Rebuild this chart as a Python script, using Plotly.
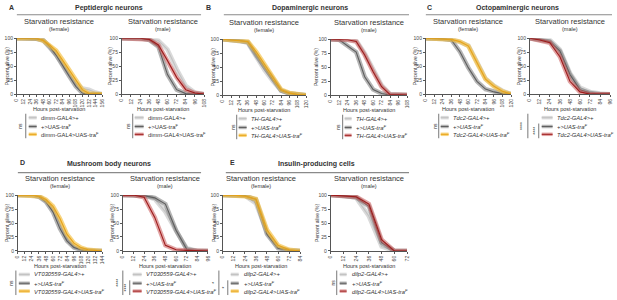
import plotly.graph_objects as go

W, H = 617, 300
FONT = "Liberation Sans, Arial, Helvetica, sans-serif"

# ---------------- data (percent alive vs hours post-starvation) ----------------
a_f_hours = [0, 12, 24, 36, 48, 60, 72, 84, 96, 108, 120, 132, 144, 156]
a_f_gal4 = [100, 100, 100, 99, 96, 84, 70, 53, 35, 20, 10, 8, 3, 0]
a_f_uas = [100, 100, 100, 99, 97, 85, 70, 50, 32, 14, 2, 0, 0, 0]
a_f_exp = [100, 100, 100, 100, 96, 88, 78, 61, 44, 26, 8, 1, 0, 0]

a_m_hours = [0, 12, 24, 36, 48, 60, 72, 84, 96, 108]
a_m_gal4 = [100, 100, 100, 99, 96, 80, 45, 15, 3, 0]
a_m_uas = [100, 100, 100, 97, 85, 35, 8, 1, 0, 0]
a_m_exp = [100, 100, 100, 98, 88, 60, 30, 8, 2, 0]

b_f_hours = [0, 12, 24, 36, 48, 60, 72, 84, 96, 108, 120]
b_f_gal4 = [100, 99, 98, 93, 68, 45, 25, 8, 3, 1, 0]
b_f_uas = [100, 99, 98, 95, 72, 50, 28, 8, 3, 1, 0]
b_f_exp = [100, 99, 98, 96, 78, 55, 32, 10, 4, 1, 0]

b_m_hours = [0, 12, 24, 36, 48, 60, 72, 84, 96, 108]
b_m_gal4 = [100, 100, 99, 98, 75, 45, 18, 2, 0, 0]
b_m_uas = [100, 99, 88, 77, 33, 10, 3, 0, 0, 0]
b_m_exp = [100, 100, 99, 96, 72, 42, 15, 1, 0, 0]

c_f_hours = [0, 12, 24, 36, 48, 60, 72, 84, 96, 108, 120]
c_f_gal4 = [100, 100, 99, 98, 93, 87, 58, 28, 15, 6, 0]
c_f_uas = [100, 100, 99, 97, 76, 47, 23, 9, 4, 1, 0]
c_f_exp = [100, 100, 99, 98, 94, 86, 56, 27, 14, 5, 0]

c_m_hours = [0, 12, 24, 36, 48, 60, 72, 84, 96]
c_m_gal4 = [100, 98, 97, 80, 38, 12, 4, 1, 0]
c_m_uas = [100, 98, 94, 77, 35, 8, 2, 0, 0]
c_m_exp = [100, 97, 92, 67, 23, 4, 0, 0, 0]

d_f_hours = [0, 12, 24, 36, 48, 60, 72, 84, 96, 108, 120, 132, 144]
d_f_gal4 = [100, 100, 100, 98, 90, 76, 50, 22, 8, 3, 1, 0, 0]
d_f_uas = [100, 100, 100, 97, 88, 70, 40, 18, 6, 2, 0, 0, 0]
d_f_exp = [100, 100, 100, 98, 92, 80, 58, 30, 14, 6, 2, 1, 0]

d_m_hours = [0, 12, 24, 36, 48, 60, 72, 84, 96]
d_m_gal4 = [100, 100, 99, 93, 70, 36, 5, 0, 0]
d_m_uas = [100, 100, 99, 95, 84, 37, 3, 0, 0]
d_m_exp = [100, 100, 96, 60, 10, 2, 1, 0, 0]

e_f_hours = [0, 12, 24, 36, 48, 60, 72, 84]
e_f_gal4 = [100, 100, 99, 85, 33, 7, 1, 0]
e_f_uas = [100, 100, 99, 92, 30, 5, 1, 0]
e_f_exp = [100, 100, 98, 93, 38, 10, 2, 0]

e_m_hours = [0, 12, 24, 36, 48, 60, 72]
e_m_gal4 = [100, 99, 95, 62, 8, 0, 0]
e_m_uas = [100, 99, 96, 80, 15, 0, 0]
e_m_exp = [100, 99, 97, 84, 20, 0, 0]

panel_letters = ["A", "B", "C", "D", "E"]
panel_titles = ["Peptidergic neurons", "Dopaminergic neurons", "Octopaminergic neurons",
                "Mushroom body neurons", "Insulin-producing cells"]
drivers = ["dimm-GAL4", "TH-GAL4", "Tdc2-GAL4", "VT030559-GAL4", "dilp2-GAL4"]
significance_female = [["ns"], ["ns"], ["ns"], ["ns"], ["*", "*"]]
significance_male = [["ns"], ["ns"], ["****", "****"], ["****", "****"], ["ns"]]

# ---------------- styles ----------------
GAL4 = ("rgba(205,205,205,0.75)", "#c2c2c2")
UAS = ("rgba(120,120,120,0.55)", "#5e5e5e")
EXP_F = ("rgba(245,190,60,0.65)", "#e8a317")
EXP_M = ("rgba(200,90,90,0.55)", "#9e1b1b")
TXT = "#333333"
AX = "#555555"

# plot boxes in px: (left, right, top, bottom)
plots = [
    dict(h=a_f_hours, g=a_f_gal4, u=a_f_uas, e=a_f_exp, box=(14, 100, 36, 93), yl=4, col=EXP_F, p=0,
         sig=significance_female[0], sigx=[17], linex=[23], sw=(26, 34), tx=36),
    dict(h=a_m_hours, g=a_m_gal4, u=a_m_uas, e=a_m_exp, box=(120, 203, 36, 93), yl=108, col=EXP_M, p=0,
         sig=significance_male[0], sigx=[126], linex=[131], sw=(133, 142), tx=144),
    dict(h=b_f_hours, g=b_f_gal4, u=b_f_uas, e=b_f_exp, box=(222, 306, 37, 94), yl=212, col=EXP_F, p=1,
         sig=significance_female[1], sigx=[232], linex=[236], sw=(238, 246), tx=248),
    dict(h=b_m_hours, g=b_m_gal4, u=b_m_uas, e=b_m_exp, box=(331, 408, 37, 94), yl=316, col=EXP_M, p=1,
         sig=significance_male[1], sigx=[338], linex=[343], sw=(345, 352), tx=354),
    dict(h=c_f_hours, g=c_f_gal4, u=c_f_uas, e=c_f_exp, box=(427, 513, 36, 93), yl=416, col=EXP_F, p=2,
         sig=significance_female[2], sigx=[436], linex=[440], sw=(442, 450), tx=452),
    dict(h=c_m_hours, g=c_m_gal4, u=c_m_uas, e=c_m_exp, box=(532, 613, 36, 93), yl=521, col=EXP_M, p=2,
         sig=significance_male[2], sigx=[524, 537], linex=[530, 541], sw=(544, 555), tx=557),
    dict(h=d_f_hours, g=d_f_gal4, u=d_f_uas, e=d_f_exp, box=(15, 100, 196, 253), yl=4, col=EXP_F, p=3,
         sig=significance_female[3], sigx=[8], linex=[13], sw=(16, 27), tx=29),
    dict(h=d_m_hours, g=d_m_gal4, u=d_m_uas, e=d_m_exp, box=(121, 207, 196, 253), yl=110, col=EXP_M, p=3,
         sig=significance_male[3], sigx=[116, 124], linex=[121, 128], sw=(131, 140), tx=142),
    dict(h=e_f_hours, g=e_f_gal4, u=e_f_uas, e=e_f_exp, box=(222, 300, 196, 253), yl=213, col=EXP_F, p=4,
         sig=significance_female[4], sigx=[213, 223], linex=[218, 227], sw=(230, 238), tx=241),
    dict(h=e_m_hours, g=e_m_gal4, u=e_m_uas, e=e_m_exp, box=(331, 408, 196, 253), yl=317, col=EXP_M, p=4,
         sig=significance_male[4], sigx=[333], linex=[337], sw=(340, 347), tx=350),
]

header_pos = [  # letter x, letter y, title center x, title y, line x0, x1, line y
    (4, 5, 107, 5, 14, 200, 12),
    (203, 5, 310, 5, 223, 410, 12),
    (426, 5, 520, 5, 427, 615, 12),
    (15, 163, 107, 164, 15, 200, 173),
    (227, 163, 317, 164, 225, 410, 173),
]


def px(x):
    return x / W


def py(y):
    return 1 - y / H


fig = go.Figure()
layout = dict(width=W, height=H, margin=dict(l=0, r=0, t=0, b=0),
              paper_bgcolor="white", plot_bgcolor="white", showlegend=False,
              font=dict(family=FONT, color=TXT))
annotations = []
shapes = []


def ann(x, y, text, size, xanchor="center", angle=0, bold=False, color=TXT):
    if bold:
        text = "<b>" + text + "</b>"
    annotations.append(dict(x=px(x), y=py(y), xref="paper", yref="paper", text=text,
                            showarrow=False, xanchor=xanchor, yanchor="middle",
                            textangle=angle, font=dict(size=size, color=color, family=FONT)))


for i, P in enumerate(plots):
    k = i + 1
    xa = "xaxis" if k == 1 else f"xaxis{k}"
    ya = "yaxis" if k == 1 else f"yaxis{k}"
    xr = "x" if k == 1 else f"x{k}"
    yr = "y" if k == 1 else f"y{k}"
    l, r, t, b = P["box"]
    hours = P["h"]
    layout[xa] = dict(domain=[px(l), px(r)], range=[0, hours[-1]], anchor=yr,
                      tickvals=hours, ticktext=[str(v) for v in hours], tickangle=-90,
                      showline=True, linecolor=AX, linewidth=0.8, ticks="outside", ticklen=2,
                      tickwidth=0.6, tickcolor=AX, showgrid=False, zeroline=False,
                      tickfont=dict(size=5, color="#444", family=FONT))
    layout[ya] = dict(domain=[py(b), py(t)], range=[0, 100], anchor=xr,
                      tickvals=[0, 25, 50, 75, 100], showline=True, linecolor=AX, linewidth=0.8,
                      ticks="outside", ticklen=2, tickwidth=0.6, tickcolor=AX, showgrid=False,
                      zeroline=False, tickfont=dict(size=5, color="#444", family=FONT))
    for ys, (band, line) in ((P["g"], GAL4), (P["u"], UAS), (P["e"], P["col"])):
        fig.add_trace(go.Scatter(x=hours, y=ys, mode="lines", xaxis=xr, yaxis=yr,
                                 line=dict(color=band, width=4.5), cliponaxis=False,
                                 hoverinfo="skip"))
        fig.add_trace(go.Scatter(x=hours, y=ys, mode="lines", xaxis=xr, yaxis=yr,
                                 line=dict(color=line, width=1.1), cliponaxis=False))

    cx = (l + r) / 2
    sex = "female" if P["col"] is EXP_F else "male"
    ann(cx, t - 17, "Starvation resistance", 7.5)
    ann(cx, t - 9, f"({sex})", 5.5)
    ann(P["yl"], (t + b) / 2, "Percent alive (%)", 5, angle=-90)
    ann(cx, b + 15, "Hours post-starvation", 5.5)

    # legend
    rows = [b + 24, b + 33, b + 41]
    drv = drivers[P["p"]]
    ital = P["p"] != 0
    labels = [f"{drv}>+", "+>UAS-tra<sup>F</sup>", f"{drv}>UAS-tra<sup>F</sup>"]
    cols = [GAL4, UAS, P["col"]]
    for ry, lab, (band, line) in zip(rows, labels, cols):
        shapes.append(dict(type="line", xref="paper", yref="paper", x0=px(P["sw"][0]), x1=px(P["sw"][1]),
                           y0=py(ry), y1=py(ry), line=dict(color=band, width=3.5)))
        shapes.append(dict(type="line", xref="paper", yref="paper", x0=px(P["sw"][0]), x1=px(P["sw"][1]),
                           y0=py(ry), y1=py(ry), line=dict(color=line, width=1)))
        ann(P["tx"], ry, f"<i>{lab}</i>" if ital else lab, 5.8, xanchor="left")
    sig = P["sig"]
    if len(sig) == 1:
        shapes.append(dict(type="line", xref="paper", yref="paper", x0=px(P["linex"][0]),
                           x1=px(P["linex"][0]), y0=py(rows[0] - 4), y1=py(rows[2] + 4),
                           line=dict(color="#555", width=0.8)))
        ann(P["sigx"][0], (rows[0] + rows[2]) / 2, sig[0], 5, angle=-90)
    else:
        spans = [(rows[0] - 4, rows[2] + 4), (rows[1] - 3, rows[2] + 4)]
        for sx, lx, s, (y0, y1) in zip(P["sigx"], P["linex"], sig, spans):
            shapes.append(dict(type="line", xref="paper", yref="paper", x0=px(lx), x1=px(lx),
                               y0=py(y0), y1=py(y1), line=dict(color="#555", width=0.8)))
            ann(sx, (y0 + y1) / 2, s, 5, angle=-90)

for letter, title, (lx, ly, tx, ty, x0, x1, hy) in zip(panel_letters, panel_titles, header_pos):
    ann(lx, ly, letter, 7, xanchor="left", bold=True)
    ann(tx, ty, title, 7, bold=True)
    shapes.append(dict(type="line", xref="paper", yref="paper", x0=px(x0), x1=px(x1),
                       y0=py(hy), y1=py(hy), line=dict(color="#8a8a8a", width=1.2)))

layout["annotations"] = annotations
layout["shapes"] = shapes
fig.update_layout(**layout)
fig.write_html("out.html", config={"displayModeBar": False},
               post_script="document.body.style.margin='0';document.body.style.overflow='hidden';")
